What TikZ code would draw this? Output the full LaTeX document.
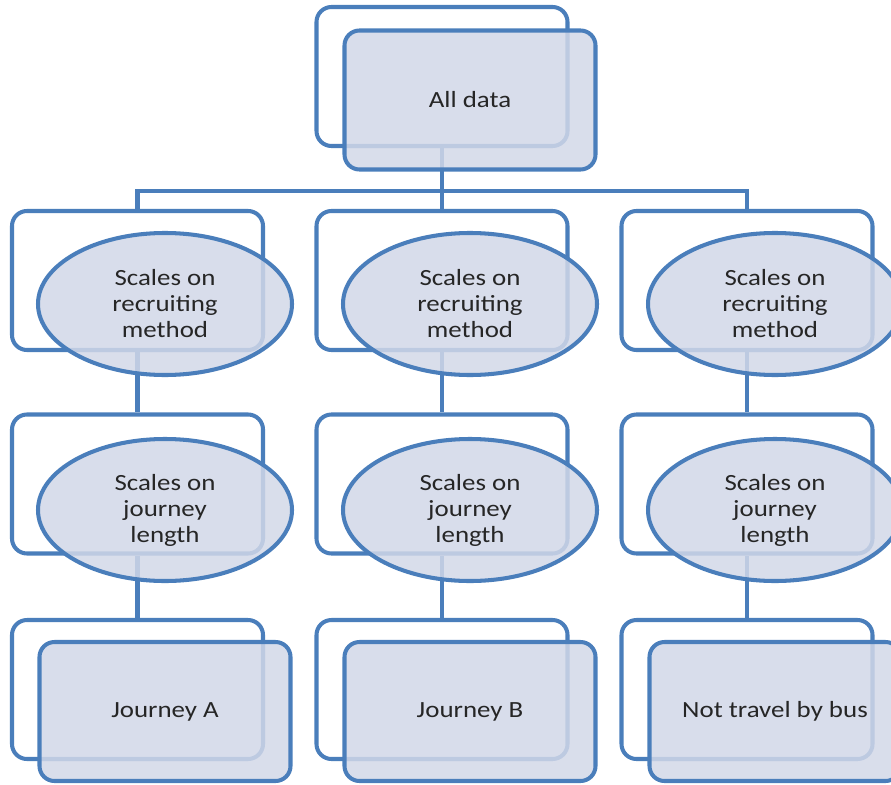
\documentclass[tikz,border=0pt]{standalone}
\usepackage{fontspec}
\setmainfont{Carlito}[FakeStretch=1.16]
\usepackage{xcolor}
\usetikzlibrary{shapes.geometric}
\definecolor{boxline}{RGB}{74,126,187}
\definecolor{boxfill}{RGB}{210,216,232}
\tikzset{
  backbox/.style={draw=boxline,line width=2.3pt,fill=white,rounded corners=0.3cm,
    minimum width=5.02cm,minimum height=2.78cm,inner sep=0pt},
  frontbox/.style={backbox,fill=boxfill,fill opacity=0.85,text opacity=1,text=black!85,
    font=\fontsize{13.2}{14.8}\selectfont},
  frontoval/.style={draw=boxline,line width=2.3pt,ellipse,fill=boxfill,fill opacity=0.85,
    text opacity=1,text=black!85,minimum width=5.08cm,minimum height=2.84cm,inner sep=0pt,
    align=center,font=\fontsize{13.2}{14.8}\selectfont},
  link/.style={draw=boxline,line width=2.3pt}
}

\begin{document}
\begin{tikzpicture}
\useasboundingbox (0,0) rectangle (17.82,-15.68);
% back boxes
\node[backbox] (allb) at (8.84,-1.53) {};
\foreach \i/\x in {1/2.75,2/8.84,3/14.94}{
  \node[backbox] (recb\i) at (\x,-5.61) {};
  \node[backbox] (jrnb\i) at (\x,-9.68) {};
  \node[backbox] (endb\i) at (\x,-13.79) {};
}
% connectors
\coordinate (bus) at (8.84,-3.82);
\draw[link] (allb.south) -- (bus);
\foreach \i in {1,2,3}{
  \draw[link] (recb\i.north) |- (bus);
  \draw[link] (recb\i.south) -- (jrnb\i.north);
  \draw[link] (jrnb\i.south) -- (endb\i.north);
}
% front shapes
\node[frontbox] (all) at (9.40,-2.00) {All data};
\foreach \i/\x/\txt in {1/3.30/Journey A,2/9.40/Journey B,3/15.50/Not travel by bus}{
  \node[frontoval] (rec\i) at (\x,-6.08) {Scales on\\recruiting\\method};
  \node[frontoval] (jrn\i) at (\x,-10.20) {Scales on\\journey\\length};
  \node[frontbox] (end\i) at (\x,-14.23) {\txt};
}
\end{tikzpicture}
\end{document}
